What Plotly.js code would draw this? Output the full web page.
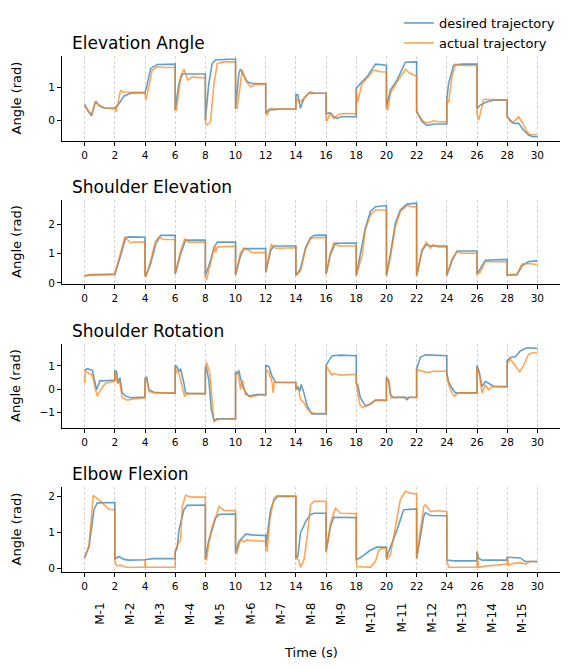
<!DOCTYPE html>
<html>
<head>
<meta charset="utf-8">
<script src="https://cdn.plot.ly/plotly-3.0.1.min.js"></script>
<style>html,body{margin:0;padding:0;background:#fff;}#chart{width:578px;height:670px;}</style>
</head>
<body>
<div id="chart"></div>
<script>
// ---------------- DATA ----------------
const subplotTitles = ["Elevation Angle", "Shoulder Elevation", "Shoulder Rotation", "Elbow Flexion"];
const seriesNames = ["desired trajectory", "actual trajectory"];
const timeTicks = [0, 2, 4, 6, 8, 10, 12, 14, 16, 18, 20, 22, 24, 26, 28, 30];
const movementLabels = ["M-1","M-2","M-3","M-4","M-5","M-6","M-7","M-8","M-9","M-10","M-11","M-12","M-13","M-14","M-15"];
const movementCenters = [1, 3, 5, 7, 9, 11, 13, 15, 17, 19, 21, 23, 25, 27, 29];
const yTicks = [[0, 1], [0, 1, 2], [-1, 0, 1], [0, 1, 2]];

// Elevation Angle
const elevDesT = [0,0.2,0.46,0.62,0.73,0.85,1.02,1.3,2.0,2.27,2.6,3.05,3.5,4.0,4.11,4.37,4.81,5.5,6.0,6.0,6.25,6.47,7.5,8.0,8.0,8.23,8.45,8.68,9.5,10.0,10.0,10.22,10.33,10.77,11.1,12.0,12.0,12.21,12.43,13.0,14.0,14.0,14.13,14.3,14.53,14.85,15.5,16.0,16.0,16.29,16.51,16.73,17.0,18.0,18.0,18.27,18.72,19.27,20.0,20.0,20.26,20.7,21.25,22.0,22.0,22.36,22.69,23.2,24.0,24.0,24.12,24.45,25.0,26.0,26.0,26.22,26.66,27.1,28.0,28.0,28.21,28.43,28.76,29.09,29.42,29.7,30.0];
const elevDes  = [0.48,0.3,0.13,0.4,0.58,0.5,0.43,0.37,0.36,0.5,0.73,0.82,0.84,0.84,1.02,1.58,1.7,1.71,1.71,0.31,1.12,1.41,1.41,1.41,0.0,1.12,1.73,1.84,1.86,1.86,0.36,1.43,1.56,1.17,1.12,1.11,0.2,0.33,0.31,0.34,0.34,0.77,0.77,0.36,0.66,0.82,0.82,0.82,0.2,0.22,0.1,0.05,0.1,0.1,0.97,1.12,1.33,1.71,1.68,0.41,0.92,1.22,1.77,1.78,0.26,-0.05,-0.16,-0.12,-0.12,0.61,1.12,1.68,1.71,1.71,0.36,0.46,0.56,0.61,0.61,0.1,0.0,-0.1,-0.1,-0.31,-0.46,-0.51,-0.51];
const elevActT = [0,0.2,0.46,0.62,0.73,0.9,1.1,1.5,2.0,2.08,2.25,2.38,2.6,3.0,4.0,4.06,4.2,4.48,4.81,5.3,6.0,6.0,6.09,6.36,6.58,6.84,7.13,7.46,8.0,8.02,8.12,8.34,8.57,8.79,9.2,10.0,10.0,10.11,10.44,10.66,10.99,11.32,12.0,12.0,12.1,12.32,13.0,14.0,14.0,14.13,14.26,14.5,14.75,14.96,15.3,16.0,16.0,16.07,16.29,16.51,16.84,17.17,18.0,18.0,18.1,18.38,18.72,19.16,19.6,20.0,20.0,20.08,20.26,20.7,21.25,21.58,21.92,22.0,22.0,22.14,22.47,22.8,23.13,23.5,24.0,24.0,24.12,24.34,24.57,25.0,26.0,26.0,26.11,26.22,26.44,26.88,28.0,28.0,28.21,28.43,28.76,28.98,29.31,29.53,30.0];
const elevAct  = [0.45,0.3,0.18,0.42,0.58,0.48,0.4,0.36,0.35,0.26,0.6,0.9,0.86,0.85,0.85,0.61,0.9,1.53,1.63,1.61,1.61,0.31,0.31,1.33,1.56,1.22,1.33,1.3,1.3,-0.1,-0.15,-0.05,1.12,1.73,1.78,1.78,0.36,0.36,1.53,1.22,1.02,1.09,1.1,0.2,0.15,0.36,0.34,0.34,0.65,0.6,0.55,0.65,0.78,0.87,0.82,0.82,0.0,0.0,0.22,0.05,0.18,0.2,0.19,0.92,0.56,1.12,1.28,1.53,1.48,1.47,0.35,0.31,0.82,1.17,1.55,1.43,1.36,1.35,0.3,0.15,-0.05,-0.08,-0.02,-0.05,-0.05,0.61,0.53,1.33,1.71,1.67,1.67,0.2,0.0,0.2,0.63,0.63,0.61,0.1,-0.05,-0.05,0.1,-0.05,-0.36,-0.45,-0.45];

// Shoulder Elevation
const shElDesT = [0,0.5,1.0,2.0,2.0,2.38,2.72,2.94,4.0,4.0,4.06,4.37,4.7,5.03,6.0,6.0,6.36,6.69,8.0,8.0,8.34,8.57,8.79,10.0,10.0,10.33,10.55,12.0,12.0,12.32,12.54,14.0,14.0,14.3,14.64,14.96,15.2,16.0,16.0,16.29,16.62,18.0,18.0,18.27,18.6,18.94,19.27,20.0,20.0,20.26,20.59,20.92,21.36,22.0,22.0,22.36,22.64,22.91,24.0,24.0,24.34,24.68,26.0,26.0,26.33,26.55,28.0,28.0,28.65,28.98,29.42,30.0];
const shElDes  = [0.25,0.26,0.28,0.28,0.3,0.92,1.54,1.57,1.56,0.25,0.25,0.64,1.31,1.62,1.62,0.3,0.98,1.46,1.46,0.25,0.75,1.2,1.39,1.39,0.27,0.92,1.17,1.17,0.36,1.09,1.26,1.26,0.25,0.47,1.2,1.54,1.62,1.63,0.3,0.98,1.35,1.36,0.25,0.98,1.87,2.44,2.6,2.64,0.25,0.98,2.04,2.49,2.69,2.72,0.25,1.09,1.31,1.26,1.26,0.25,0.75,1.09,1.09,0.3,0.58,0.77,0.8,0.27,0.27,0.58,0.73,0.75];
const shElActT = [0,0.3,1.0,2.0,2.0,2.38,2.67,3.05,3.27,4.0,4.0,4.06,4.37,4.7,4.92,5.25,6.0,6.0,6.36,6.62,6.91,8.0,8.0,8.08,8.23,8.45,8.61,8.68,8.79,10.0,10.0,10.33,10.55,10.88,11.1,12.0,12.0,12.32,12.38,12.65,14.0,14.0,14.3,14.64,14.96,15.2,16.0,16.0,16.29,16.51,16.84,18.0,18.0,18.38,18.6,18.94,19.27,20.0,20.0,20.26,20.59,20.92,21.36,21.7,22.0,22.0,22.36,22.64,22.91,23.09,23.4,24.0,24.0,24.34,24.68,25.0,26.0,26.0,26.22,26.55,28.0,28.0,28.65,28.98,29.42,30.0];
const shElAct  = [0.22,0.28,0.29,0.28,0.3,1.03,1.56,1.37,1.39,1.39,0.25,0.22,0.75,1.43,1.56,1.48,1.48,0.3,1.09,1.5,1.39,1.39,0.2,0.1,0.42,0.98,1.26,1.03,1.23,1.25,0.27,1.03,1.18,1.11,1.03,1.04,0.36,1.2,1.31,1.18,1.2,0.25,0.4,1.15,1.5,1.54,1.54,0.3,1.03,1.37,1.26,1.26,0.25,0.92,1.82,2.32,2.49,2.49,0.25,0.87,1.93,2.43,2.64,2.6,2.6,0.25,1.14,1.39,1.18,1.31,1.23,1.23,0.25,0.81,1.07,1.01,1.01,0.3,0.36,0.72,0.72,0.27,0.3,0.64,0.66,0.62];

// Shoulder Rotation
const shRoDesT = [0,0.18,0.51,0.62,0.79,1.02,1.28,1.94,2.0,2.0,2.12,2.21,2.34,2.49,2.72,3.05,3.93,4.0,4.0,4.11,4.26,4.59,5.03,6.0,6.0,6.13,6.25,6.36,6.58,6.69,7.02,8.0,8.0,8.08,8.23,8.39,8.57,8.79,10.0,10.0,10.11,10.22,10.33,10.55,10.88,11.43,12.0,12.0,12.21,12.43,12.65,14.0,14.0,14.13,14.26,14.35,14.53,14.75,14.97,15.07,16.0,16.0,16.18,16.4,16.95,18.0,18.0,18.1,18.27,18.45,18.6,18.94,19.27,20.0,20.0,20.15,20.26,20.48,21.2,21.36,21.5,22.0,22.0,22.25,22.58,24.0,24.0,24.12,24.34,24.57,26.0,26.0,26.15,26.33,26.55,26.77,27.1,28.0,28.0,28.21,28.54,28.87,29.31,30.0];
const shRoDes  = [0.81,0.88,0.81,0.53,-0.03,0.36,0.35,0.39,0.39,0.81,0.74,0.25,0.49,-0.17,-0.31,-0.38,-0.35,-0.35,0.46,0.53,-0.03,-0.14,-0.17,-0.18,1.02,0.95,0.74,0.88,0.25,-0.17,-0.2,-0.2,0.98,0.88,0.39,-0.87,-1.36,-1.29,-1.29,0.74,0.67,0.81,0.46,-0.03,-0.31,-0.24,-0.24,1.02,0.98,0.53,0.29,0.28,-0.03,0.11,-0.1,0.2,-0.17,-0.73,-1.0,-1.08,-1.08,1.02,1.23,1.44,1.47,1.44,0.25,0.18,-0.38,-0.59,-0.73,-0.66,-0.48,-0.49,0.53,0.32,-0.24,-0.38,-0.35,-0.47,-0.36,-0.35,0.88,1.37,1.48,1.44,0.67,0.32,0.04,-0.17,-0.17,1.02,0.74,0.11,0.32,0.25,0.11,0.11,1.23,1.37,1.4,1.65,1.79,1.76];
const shRoActT = [0,0.05,0.29,0.51,0.73,0.84,1.06,1.39,1.72,2.0,2.0,2.12,2.21,2.3,2.49,2.83,3.27,4.0,4.0,4.11,4.26,4.59,6.0,6.0,6.09,6.25,6.47,6.62,6.91,8.0,8.0,8.08,8.3,8.45,8.57,8.79,10.0,10.0,10.18,10.33,10.44,10.66,10.99,11.5,12.0,12.0,12.21,12.43,12.49,12.58,12.8,14.0,14.0,14.19,14.3,14.53,14.75,14.97,15.2,16.0,16.0,16.18,16.4,16.51,16.95,18.0,18.0,18.23,18.38,18.72,19.27,20.0,20.0,20.15,20.3,20.59,22.0,22.0,22.36,22.69,23.13,24.0,24.0,24.12,24.34,24.5,24.79,26.0,26.0,26.15,26.33,26.55,26.77,26.99,28.0,28.0,28.21,28.54,28.83,29.09,29.42,29.75,30.0];
const shRoAct  = [0.25,0.77,0.67,0.6,-0.03,-0.31,-0.03,0.25,0.32,0.32,0.74,0.46,0.25,0.39,-0.38,-0.48,-0.42,-0.39,0.25,0.49,-0.1,-0.17,-0.17,0.98,0.74,0.67,0.11,-0.31,-0.2,-0.2,0.81,1.16,0.67,-0.45,-1.43,-1.32,-1.29,0.67,0.67,-0.03,0.39,-0.24,-0.34,-0.27,-0.27,0.81,0.74,0.25,-0.17,0.32,0.28,0.28,0.04,-0.03,-0.45,-0.59,-0.87,-1.0,-1.06,-1.06,1.02,0.81,0.6,0.67,0.6,0.64,0.25,-0.66,-0.8,-0.73,-0.49,-0.49,0.46,0.39,-0.38,-0.35,-0.38,0.84,0.77,0.71,0.77,0.77,0.6,0.18,-0.17,-0.31,-0.17,-0.17,0.95,0.67,-0.17,0.18,-0.03,0.11,0.08,1.09,1.3,1.02,0.74,1.02,1.51,1.58,1.55];

// Elbow Flexion
const elbDesT = [0,0.29,0.62,0.84,2.0,2.0,2.27,2.6,2.94,4.0,4.5,6.0,6.0,6.13,6.25,6.36,6.58,6.8,8.0,8.0,8.23,8.45,8.68,8.9,10.0,10.0,10.22,10.44,10.66,11.1,12.0,12.0,12.21,12.32,12.54,12.76,14.0,14.0,14.13,14.3,14.64,14.97,15.2,16.0,16.0,16.29,16.51,18.0,18.0,18.38,18.94,19.38,20.0,20.0,20.15,20.37,20.7,21.14,22.0,22.0,22.25,22.47,22.58,22.91,24.0,24.0,24.5,26.0,26.0,26.11,26.33,28.0,28.0,28.87,29.2,30.0];
const elbDes  = [0.3,0.6,1.63,1.82,1.83,0.26,0.33,0.25,0.23,0.24,0.27,0.27,0.47,0.56,1.07,1.26,1.63,1.75,1.76,0.26,0.79,1.07,1.4,1.5,1.51,0.44,0.75,0.84,0.95,0.93,0.91,0.6,1.35,1.63,1.87,2.0,2.0,0.28,0.33,0.98,1.3,1.5,1.53,1.53,0.47,1.16,1.42,1.41,0.23,0.33,0.51,0.59,0.59,0.28,0.47,0.7,1.07,1.63,1.65,0.28,0.88,1.44,1.55,1.47,1.46,0.23,0.21,0.21,0.47,0.28,0.23,0.23,0.31,0.29,0.19,0.19];
const elbActT = [0,0.29,0.57,0.79,1.06,1.39,1.61,1.94,2.0,2.0,2.12,2.38,2.72,4.0,4.0,4.05,6.0,6.0,6.2,6.36,6.47,6.69,7.02,8.0,8.0,8.08,8.23,8.45,8.74,8.9,9.23,10.0,10.0,10.07,10.33,10.55,10.77,11.1,12.0,12.0,12.1,12.27,12.54,12.76,14.0,14.0,14.19,14.3,14.53,14.75,14.97,15.2,16.0,16.0,16.29,16.62,16.95,18.0,18.0,18.05,18.94,19.27,19.49,19.71,20.0,20.0,20.26,20.59,20.92,21.25,21.58,22.0,22.0,22.25,22.47,22.58,22.91,23.35,24.0,24.0,24.12,26.0,26.0,26.11,26.66,27.32,28.0,28.0,28.1,28.43,28.87,29.2,29.5,30.0];
const elbAct  = [0.28,0.65,2.03,1.96,1.86,1.72,1.64,1.63,1.63,0.23,0.07,0.09,0.03,0.03,0.23,0.03,0.03,0.47,0.7,0.79,1.72,2.03,1.98,1.98,0.26,0.23,0.7,1.16,1.49,1.72,1.61,1.6,0.44,0.4,0.79,0.74,0.79,0.77,0.76,0.5,0.47,1.35,1.95,2.02,2.0,0.28,0.23,0.03,0.23,0.88,1.77,1.86,1.86,0.44,1.26,1.67,1.53,1.52,0.2,0.05,0.03,0.19,0.51,0.56,0.56,0.23,0.37,1.16,1.91,2.14,2.09,2.07,0.28,1.07,1.72,1.77,1.58,1.6,1.58,0.23,0.03,0.03,0.47,0.03,0.07,0.09,0.12,0.31,0.09,0.14,0.16,0.12,0.19,0.19];

// ---------------- LAYOUT / DRAW ----------------
const W = 578, H = 670, ML = 62, MR = 18;
const py = p => 1 - p / H;               // figure pixel (y) -> paper
const px = p => (p - ML) / (W - ML - MR); // figure pixel (x) -> paper
const colors = ["rgba(31,119,180,0.7)", "rgba(255,127,14,0.7)"];
const FONT = "DejaVu Sans, Liberation Sans, sans-serif";

const panels = [
  {des: [elevDesT, elevDes], act: [elevActT, elevAct], dom: [56, 141], range: [-0.64, 1.96]},
  {des: [shElDesT, shElDes], act: [shElActT, shElAct], dom: [200, 284], range: [-0.04, 2.83]},
  {des: [shRoDesT, shRoDes], act: [shRoActT, shRoAct], dom: [344, 428], range: [-1.69, 1.95]},
  {des: [elbDesT, elbDes],  act: [elbActT, elbAct],  dom: [487, 572], range: [-0.1, 2.26]}
];
const titleY = [43, 187, 331, 474];

const traces = [];
const layout = {
  width: W, height: H, autosize: false,
  margin: {l: ML, r: MR, t: 0, b: 0},
  paper_bgcolor: "#fff", plot_bgcolor: "#fff",
  font: {family: FONT, color: "#000", size: 11},
  showlegend: true,
  legend: {x: px(399), y: py(8), xanchor: "left", yanchor: "top",
           font: {size: 13, family: FONT}, bgcolor: "rgba(0,0,0,0)", tracegroupgap: 0},
  annotations: [], shapes: []
};

panels.forEach((p, i) => {
  const n = i + 1;
  const xa = n === 1 ? "x" : "x" + n, ya = n === 1 ? "y" : "y" + n;
  [[p.des, 0], [p.act, 1]].forEach(([d, k]) => {
    traces.push({
      x: d[0], y: d[1], xaxis: xa, yaxis: ya, type: "scatter", mode: "lines",
      name: seriesNames[k], legendgroup: seriesNames[k], showlegend: i === 0,
      line: {color: colors[k], width: 1.6}, hoverinfo: "skip"
    });
  });
  layout["xaxis" + (n === 1 ? "" : n)] = {
    anchor: ya, domain: [0, 1], range: [-1.5, 31.5],
    tickmode: "array", tickvals: timeTicks, ticktext: timeTicks.map(String),
    ticks: "outside", ticklen: 4, tickwidth: 1, tickcolor: "#000",
    showline: true, linecolor: "#000", linewidth: 1, mirror: false,
    showgrid: true, gridcolor: "#b8b8b8", gridwidth: 0.6, griddash: "3px,2px",
    zeroline: false, automargin: false, tickfont: {size: 10.5, family: FONT, color: "#000"}
  };
  layout["yaxis" + (n === 1 ? "" : n)] = {
    anchor: xa, domain: [py(p.dom[1]), py(p.dom[0])], range: p.range,
    tickmode: "array", tickvals: yTicks[i], ticktext: yTicks[i].map(v => v < 0 ? "\u2212" + Math.abs(v) : String(v)),
    ticks: "outside", ticklen: 4, tickwidth: 1, tickcolor: "#000",
    showline: true, linecolor: "#000", linewidth: 1,
    showgrid: false, zeroline: false, automargin: false,
    tickfont: {size: 10.5, family: FONT, color: "#000"}
  };
  layout.annotations.push({
    text: subplotTitles[i], xref: "paper", yref: "paper", x: px(70), y: py(titleY[i]),
    xanchor: "left", yanchor: "middle", showarrow: false, font: {size: 17, family: FONT, color: "#000"}
  });
  layout.annotations.push({
    text: "Angle (rad)", xref: "paper", yref: "paper", x: px(16), y: py((p.dom[0] + p.dom[1]) / 2),
    xanchor: "center", yanchor: "middle", textangle: -90, showarrow: false,
    font: {size: 13, family: FONT, color: "#000"}
  });
});

movementLabels.forEach((m, j) => {
  layout.annotations.push({
    text: m, xref: "x4", yref: "paper", x: movementCenters[j], y: py(601),
    xanchor: "center", yanchor: "top", textangle: -90, showarrow: false,
    font: {size: 12, family: FONT, color: "#000"}
  });
});
layout.annotations.push({
  text: "Time (s)", xref: "paper", yref: "paper", x: 0.5, y: py(652),
  xanchor: "center", yanchor: "middle", showarrow: false, font: {size: 13, family: FONT, color: "#000"}
});

Plotly.newPlot("chart", traces, layout, {staticPlot: true, displayModeBar: false});
</script>
</body>
</html>
